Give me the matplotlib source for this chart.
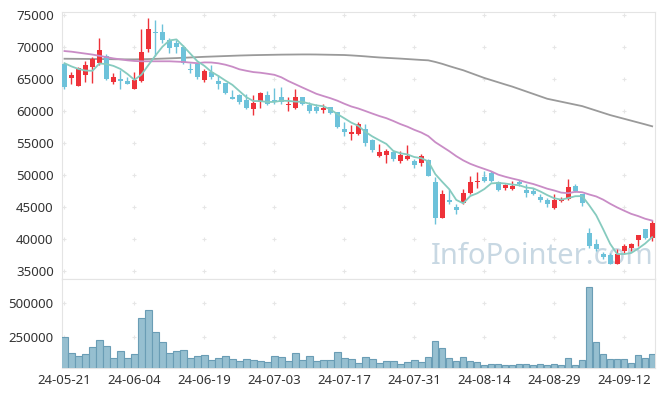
import numpy as np
import matplotlib
matplotlib.use('Agg')
import matplotlib.pyplot as plt

plt.rcParams['font.family'] = ['Noto Sans', 'DejaVu Sans']

# 일봉 데이터 (시가, 고가, 저가, 종가)
opens = [67300, 65200, 63900, 65700, 66900, 67500, 68600, 64600, 65100, 64800,
         63400, 64700, 69700, 72300, 72300, 71200, 70700, 70100, 66500, 67300,
         64900, 66100, 64700, 64400, 62200, 62600, 61800, 60300, 61400, 62500,
         61800, 62300, 60900, 60500, 62200, 61000, 60600, 60200, 60600, 59900,
         57300, 56500, 56500, 57200, 55500, 53000, 53200, 53700, 52200, 52500,
         52300, 51900, 52400, 48900, 43400, 46200, 45000, 45650, 47200, 48900,
         49800, 50300, 48900, 48000, 47850, 48900, 47700, 47500, 46650, 46100,
         44900, 46000, 46300, 48350, 47050, 41050, 39200, 37750, 37550, 36200,
         38200, 38700, 39850, 41600, 40200]
highs = [67600, 66200, 66900, 67900, 68500, 71500, 69000, 65900, 66400, 65300,
         66100, 72900, 74500, 74300, 73700, 71500, 71200, 70300, 67500, 67300,
         66600, 67200, 65600, 64400, 63350, 62700, 62700, 62500, 63000, 63200,
         63700, 63800, 62300, 63400, 62200, 61400, 61100, 61200, 60700, 59900,
         58300, 57800, 58300, 58000, 55700, 54900, 54100, 53950, 53750, 54800,
         52500, 53300, 52500, 49800, 47700, 47800, 45500, 47800, 49900, 50450,
         50700, 50700, 49100, 48600, 49150, 49250, 48600, 48000, 47050, 46500,
         47050, 46650, 49400, 48650, 47150, 41750, 40000, 37950, 37900, 38450,
         39250, 39500, 40700, 41600, 43000]
lows = [63400, 64300, 63900, 64600, 64400, 67200, 64900, 64200, 63400, 64200,
        63400, 64600, 69300, 68700, 70600, 69100, 69100, 67400, 65900, 65100,
        64600, 65100, 63400, 62700, 61900, 61200, 60400, 59400, 60500, 60900,
        61200, 61200, 60100, 60400, 60900, 59700, 59700, 59700, 59600, 57400,
        56200, 55500, 56300, 54600, 53600, 52800, 51900, 52300, 51900, 52400,
        51200, 51500, 49900, 42400, 43300, 45500, 43900, 45500, 47000, 48000,
        49000, 48900, 47600, 47700, 47700, 48350, 46650, 46950, 45750, 45100,
        44700, 45750, 46100, 47450, 45200, 38700, 38200, 37000, 36100, 36100,
        37650, 38200, 38950, 40100, 39800]
closes = [63800, 65600, 66800, 67200, 68200, 69500, 65100, 65400, 64800, 64300,
          64900, 69200, 72900, 72200, 71200, 69800, 70000, 67500, 66400, 65300,
          66250, 65300, 64300, 62800, 61950, 61400, 60500, 61300, 62800, 61200,
          61500, 61400, 61200, 62200, 61100, 60000, 60100, 60500, 59700, 57500,
          56700, 56700, 58000, 55000, 53950, 53700, 53850, 52500, 53200, 53050,
          51650, 52950, 49950, 43300, 47000, 45900, 44600, 47300, 49000, 49150,
          49150, 49050, 47700, 48500, 48350, 48600, 47300, 47050, 46100, 45500,
          46100, 46250, 48200, 47600, 45600, 38950, 38450, 37250, 36200, 37650,
          38950, 39250, 40700, 40150, 42600]

# 이동평균선 (5일, 20일, 120일)
ma5 = [67500, 67000, 66600, 66350, 66320, 67460, 67360, 67080, 66600, 65820,
       64900, 65720, 67220, 68700, 70080, 71060, 71220, 70140, 68980, 67800,
       67090, 66150, 65510, 64790, 64120, 63150, 62190, 61590, 61590, 61440,
       61460, 61640, 61620, 61500, 61480, 61180, 60920, 60780, 60280, 59560,
       58900, 58220, 57720, 56780, 56070, 55470, 54900, 53800, 53440, 53260,
       52850, 52670, 52160, 50180, 48970, 47820, 46150, 45620, 46760, 47190,
       47840, 48730, 48810, 48710, 48550, 48440, 48090, 47960, 47480, 46910,
       46410, 46200, 46430, 46730, 46750, 45320, 43760, 41570, 39290, 37700,
       37700, 37860, 38550, 39340, 40330]
ma20 = [69400, 69300, 69150, 69000, 68850, 68650, 68450, 68250, 68100, 67950,
        67850, 67800, 67800, 67800, 67800, 67800, 67750, 67700, 67600, 67505,
        67628, 67613, 67488, 67268, 66955, 66550, 66320, 66115, 66015, 65860,
        65690, 65300, 64715, 64215, 63710, 63220, 62725, 62375, 62040, 61650,
        61173, 60743, 60428, 60038, 59638, 59253, 58920, 58480, 58000, 57593,
        57100, 56678, 56115, 55170, 54465, 53760, 52985, 52325, 51790, 51373,
        50995, 50613, 50098, 49773, 49493, 49238, 48910, 48638, 48283, 47905,
        47628, 47293, 47205, 47420, 47350, 47003, 46695, 46193, 45553, 44978,
        44468, 43978, 43628, 43210, 42923]
ma120 = [68200, 68190, 68180, 68170, 68160, 68150, 68140, 68120, 68110, 68100,
         68100, 68120, 68150, 68180, 68220, 68260, 68300, 68350, 68400, 68450,
         68500, 68540, 68580, 68620, 68660, 68700, 68730, 68760, 68780, 68800,
         68820, 68840, 68850, 68860, 68870, 68870, 68860, 68840, 68820, 68800,
         68780, 68720, 68650, 68570, 68480, 68400, 68340, 68280, 68220, 68150,
         68080, 68010, 67950, 67700, 67400, 67050, 66720, 66400, 66000, 65600,
         65200, 64860, 64520, 64180, 63850, 63470, 63090, 62710, 62330, 61950,
         61720, 61490, 61260, 61030, 60800, 60450, 60100, 59750, 59400, 59110,
         58820, 58530, 58240, 57950, 57650]

# 거래량
volumes = [245000, 125700, 103000, 118000, 170000, 223000, 178000, 88000, 140000, 88000,
           118000, 388000, 447000, 283000, 208000, 125700, 140000, 148000, 88000, 103000,
           110000, 73000, 88000, 103000, 80500, 66000, 80500, 73000, 66000, 58000,
           103000, 95500, 66000, 125700, 73000, 103000, 66000, 73000, 73000, 133000,
           88000, 80500, 51000, 95500, 80500, 51000, 66000, 66000, 43500, 58000,
           73000, 58000, 95500, 215000, 163000, 88000, 66000, 95500, 66000, 58000,
           36000, 43500, 43500, 36000, 36000, 43500, 43500, 36000, 43500, 36000,
           43500, 36000, 88000, 36000, 73000, 620000, 208000, 118000, 80500, 80500,
           80500, 51000, 110000, 88000, 118000]

tick_idx = [0, 10, 20, 30, 40, 50, 60, 70, 80]
tick_labels = ['24-05-21', '24-06-04', '24-06-19', '24-07-03', '24-07-17',
               '24-07-31', '24-08-14', '24-08-29', '24-09-12']
price_ticks = [35000, 40000, 45000, 50000, 55000, 60000, 65000, 70000, 75000]
vol_ticks = [250000, 500000]

x = np.arange(len(closes))
o = np.array(opens)
c = np.array(closes)
up = c >= o
red = '#ee3239'
blue = '#6dc2da'
colors = np.where(up, red, blue)

fig = plt.figure(figsize=(6.65, 3.97), dpi=100)
ax = fig.add_axes([0.0932, 0.2972, 0.8920, 0.6726])
axv = fig.add_axes([0.0932, 0.0730, 0.8920, 0.2242], sharex=ax)

# 캔들
ax.vlines(x, lows, highs, colors=colors, linewidth=1, zorder=3)
body_h = np.maximum(np.abs(c - o), 120)
ax.bar(x, body_h, bottom=np.minimum(o, c), width=0.72, color=colors, zorder=4)

# 이동평균선
ax.plot(x, ma120, color='#9a9a9a', linewidth=1.3, zorder=2)
ax.plot(x, ma20, color='#c98cc6', linewidth=1.3, zorder=5)
ax.plot(x, ma5, color='#86cbbf', linewidth=1.3, zorder=5)

ax.text(0.81, 0.085, 'InfoPointer.com', transform=ax.transAxes, ha='center', va='center',
        fontsize=21, color='#c8d8e3', zorder=1)

ax.set_ylim(33800, 75500)
ax.set_yticks(price_ticks)
ax.set_xlim(-0.36, 84.43)

# 거래량 막대
axv.bar(x, volumes, width=0.92, color='#96bfd0', edgecolor='#6a9db5', linewidth=0.8, zorder=3)
axv.set_ylim(13500, 682000)
axv.set_yticks(vol_ticks)
axv.set_xticks(tick_idx)
axv.set_xticklabels(tick_labels)

for a, yt in ((ax, price_ticks), (axv, vol_ticks)):
    gx, gy = np.meshgrid(tick_idx, yt)
    a.scatter(gx.ravel(), gy.ravel(), marker='+', s=12, color='#e6e6e6', linewidths=0.8, zorder=0)
    for s in a.spines.values():
        s.set_color('#e4e4e4')
    a.tick_params(length=0, labelsize=9.5, colors='#333333', pad=6)
    a.set_facecolor('white')

ax.tick_params(labelbottom=False)
axv.tick_params(axis='x', pad=4)

fig.savefig('out.png', dpi=100)
